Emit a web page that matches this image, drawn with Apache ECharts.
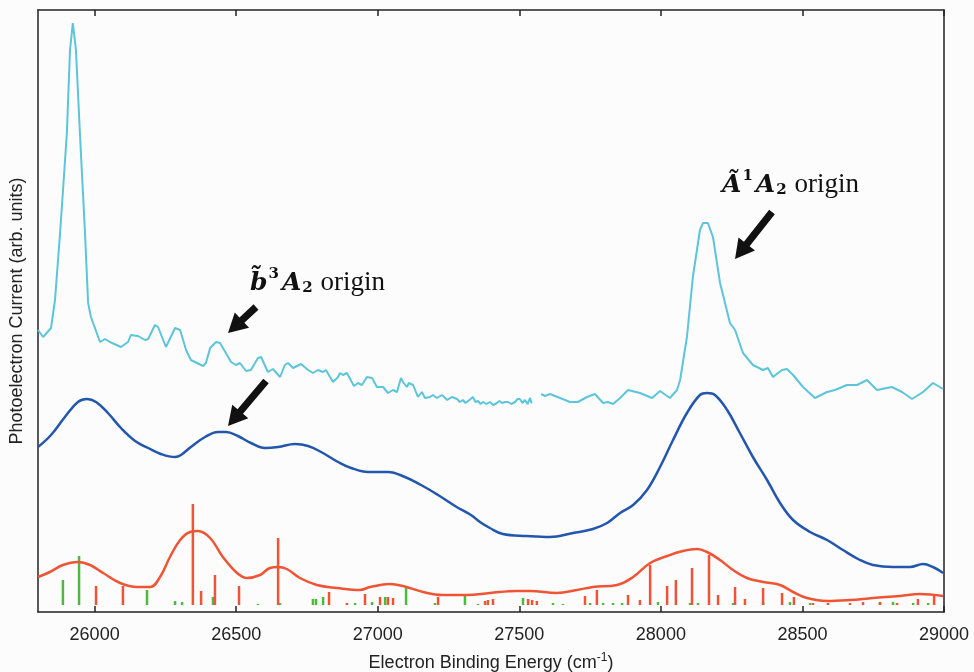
<!DOCTYPE html>
<html>
<head>
<meta charset="utf-8">
<script src="https://cdn.jsdelivr.net/npm/echarts@6/dist/echarts.min.js"></script>
<style>
html,body{margin:0;padding:0;background:#fcfcfd;}
#chart{width:974px;height:672px;}
</style>
</head>
<body>
<div id="chart"></div>
<script>
// Experimental photoelectron spectrum (cyan), x in cm^-1, y arbitrary units
const cyanX = [25800,25818,25846,25860,25878,25902,25913,25923,25934,25948,25966,25977,25987,26019,26037,26054,26093,26118,26128,26153,26178,26189,26213,26224,26252,26259,26284,26302,26323,26340,26383,26393,26408,26429,26443,26482,26499,26513,26535,26552,26577,26588,26612,26630,26655,26672,26683,26701,26729,26754,26771,26789,26807,26817,26842,26860,26867,26877,26891,26916,26930,26944,26962,26980,26997,27019,27036,27054,27068,27082,27089,27103,27110,27125,27142,27156,27167,27185,27195,27209,27227,27245,27262,27280,27290,27301,27310,27319,27328,27336,27345,27354,27363,27372,27384,27396,27408,27421,27430,27439,27450,27460,27472,27485,27494,27502,27511,27520,27529,27538,27542,27545,27560,27577,27591,27608,27644,27679,27707,27739,27767,27796,27813,27831,27856,27884,27926,27969,27997,28032,28057,28068,28092,28113,28138,28149,28166,28184,28209,28244,28262,28290,28325,28361,28378,28396,28428,28445,28467,28502,28544,28587,28615,28657,28693,28728,28763,28816,28852,28887,28926,28961,28997];
const cyanY = [275,268,277,305,372,472,555,582,555,472,372,302,288,263,266,263,258,263,270,269,265,266,280,278,258,259,277,275,255,245,239,242,257,263,262,243,240,242,234,235,247,248,233,236,228,240,242,237,241,235,232,235,233,235,223,228,232,230,232,219,222,220,228,227,218,218,212,215,213,227,223,218,222,220,208,213,207,208,210,207,210,205,208,206,203,205,202,204,206,208,203,204,201,203,201,203,200,202,204,202,203,203,201,203,206,206,202,205,201,207,203,202,null,211,209,211,207,203,203,208,211,202,203,201,207,215,212,207,214,207,215,225,268,328,375,382,382,368,322,282,275,252,240,235,237,228,235,236,230,218,207,213,215,220,220,225,215,218,213,206,213,222,216];
// Simulated/convolved spectrum (blue)
const blueX = [25800,25846,25895,25941,25973,26005,26047,26093,26143,26189,26234,26284,26305,26340,26390,26436,26464,26506,26552,26602,26648,26708,26754,26800,26860,26906,26966,27036,27096,27153,27213,27273,27329,27361,27396,27442,27527,27608,27690,27760,27810,27856,27902,27951,27997,28043,28092,28138,28163,28191,28234,28279,28325,28375,28421,28467,28527,28587,28643,28703,28749,28820,28880,28926,28961,28997];
const blueY = [158,170,188,203,206,203,192,177,164,157,151,148,150,158,168,173,173,169,162,157,158,161,159,153,143,137,133,133,128,120,110,99,90,83,77,71,69,68,72,76,82,92,100,115,138,165,192,210,212,210,195,172,148,125,102,85,73,65,55,45,40,38,38,41,38,32];
// FC simulation envelope (red)
const redX = [25800,25842,25888,25941,25984,26030,26090,26150,26196,26231,26266,26302,26337,26365,26408,26453,26503,26538,26584,26619,26648,26679,26725,26785,26856,26937,26973,27043,27089,27160,27230,27315,27396,27492,27538,27633,27704,27760,27845,27902,27962,28022,28078,28128,28163,28209,28255,28304,28361,28421,28467,28516,28587,28668,28749,28845,28915,28997];
const redY = [28,33,40,43,40,32,22,18,18,28,48,65,73,74,67,48,32,27,30,37,38,36,27,20,17,15,18,21,19,13,10,10,12,14,14,12,15,18,20,28,42,49,54,56,53,45,35,27,23,20,13,7,4,5,7,9,11,9];
// Stick spectra: red (singlet) and green (triplet)
const redStickX = [26005,26100,26347,26376,26425,26510,26648,26828,26891,26955,27008,27036,27054,27213,27379,27389,27407,27531,27545,27562,27732,27774,27884,27926,27962,28022,28053,28110,28170,28202,28262,28297,28361,28428,28470,28537,28590,28668,28714,28774,28834,28908,28965];
const redStickY = [19,19,101,14,30,19,67,13,2,11,8,8,7,8,4,5,6,6,5,4,9,15,10,5,40,19,25,37,50,10,18,6,17,12,8,2,2,2,3,3,2,6,10];
const greenStickX = [25888,25945,26185,26284,26309,26418,26577,26655,26771,26782,26807,26920,26980,27026,27100,27202,27308,27354,27513,27619,27654,27750,27796,27831,27863,27990,28103,28131,28255,28361,28456,28527,28774,28820,28891,28944];
const greenStickY = [25,49,15,4,3,8,1,2,6,6,8,2,3,8,19,2,9,1,7,2,1,2,2,2,2,3,2,2,2,3,3,2,3,3,2,2];
const xTicks = [26000,26500,27000,27500,28000,28500,29000];

const zip = (xs, ys) => xs.map((x, i) => [x, ys[i]]);

const chart = echarts.init(document.getElementById('chart'));

function stickSeries(name, xs, ys, color) {
  return {
    name: name, type: 'custom', xAxisIndex: 0, yAxisIndex: 0,
    data: zip(xs, ys),
    renderItem: function (params, api) {
      const p0 = api.coord([api.value(0), 0]);
      const p1 = api.coord([api.value(0), api.value(1)]);
      return { type: 'line', shape: { x1: p0[0], y1: p0[1], x2: p1[0], y2: p1[1] },
               style: { stroke: color, lineWidth: 2.5 } };
    },
    z: 2
  };
}

function arrow(tx, ty, px, py) {
  const dx = px - tx, dy = py - ty, len = Math.hypot(dx, dy);
  const ux = dx / len, uy = dy / len, nx = -uy, ny = ux;
  const w = 3.6, h = 10.5, L = 19;
  const bx = px - ux * L, by = py - uy * L;
  const pts = [
    [tx + nx * w, ty + ny * w], [bx + nx * w, by + ny * w], [bx + nx * h, by + ny * h],
    [px, py], [bx - nx * h, by - ny * h], [bx - nx * w, by - ny * w], [tx - nx * w, ty - ny * w]
  ];
  return { type: 'polygon', shape: { points: pts }, style: { fill: '#111' }, z: 100 };
}

const serif = '"DejaVu Serif", "Liberation Serif", serif';
const labelRich = {
  b: { fontFamily: serif, fontStyle: 'italic', fontWeight: 'bold', fontSize: 25, lineHeight: 30, verticalAlign: 'bottom', fill: '#111' },
  sup: { fontFamily: serif, fontWeight: 'bold', fontSize: 15, lineHeight: 30, verticalAlign: 'top', padding: [1, 3, 0, 1], fill: '#111' },
  sub: { fontFamily: serif, fontWeight: 'bold', fontSize: 15, lineHeight: 30, verticalAlign: 'bottom', padding: [0, 1, 0, 1], fill: '#111' },
  r: { fontFamily: '"Liberation Serif", "DejaVu Serif", serif', fontSize: 27, lineHeight: 30, verticalAlign: 'bottom', fill: '#111' }
};

const sans = '"Liberation Sans", Arial, sans-serif';
const tickStyle = { show: true, inside: true, length: 6, customValues: xTicks, lineStyle: { color: '#222', width: 1.5 } };

const option = {
  backgroundColor: '#fcfcfd',
  animation: false,
  grid: { left: 38, right: 30, top: 10, bottom: 60, show: false, containLabel: false, outerBoundsMode: 'none' },
  xAxis: [
    {
      type: 'value', min: 25800, max: 29000,
      position: 'bottom',
      name: 'Electron Binding Energy (cm{sup|-1})',
      nameLocation: 'middle', nameGap: 40,
      nameTextStyle: { fontFamily: sans, fontSize: 18, color: '#222',
        rich: { sup: { fontFamily: sans, fontSize: 12, verticalAlign: 'top', lineHeight: 22, color: '#222' } } },
      axisLine: { show: true, onZero: false, lineStyle: { color: '#222', width: 1.5 } },
      axisTick: tickStyle,
      axisLabel: { show: true, customValues: xTicks, fontFamily: sans, fontSize: 18, color: '#222', margin: 14,
        formatter: function (v) { return String(v); } },
      splitLine: { show: false }
    },
    {
      type: 'value', min: 25800, max: 29000,
      position: 'top',
      axisLine: { show: true, onZero: false, lineStyle: { color: '#222', width: 1.5 } },
      axisTick: tickStyle,
      axisLabel: { show: false },
      splitLine: { show: false }
    }
  ],
  yAxis: [
    {
      type: 'value', min: -7, max: 595, position: 'left',
      name: 'Photoelectron Current (arb. units)', nameLocation: 'middle', nameGap: 12,
      nameTextStyle: { fontFamily: sans, fontSize: 18, color: '#222' },
      axisLine: { show: true, onZero: false, lineStyle: { color: '#222', width: 1.5 } },
      axisTick: { show: false }, axisLabel: { show: false }, splitLine: { show: false }
    },
    {
      type: 'value', min: -7, max: 595, position: 'right',
      axisLine: { show: true, onZero: false, lineStyle: { color: '#222', width: 1.5 } },
      axisTick: { show: false }, axisLabel: { show: false }, splitLine: { show: false }
    }
  ],
  series: [
    stickSeries('green sticks', greenStickX, greenStickY, '#4cba3f'),
    stickSeries('red sticks', redStickX, redStickY, '#ee5436'),
    { name: 'red envelope', type: 'line', data: zip(redX, redY), smooth: 0.4, showSymbol: false,
      lineStyle: { color: '#ef5535', width: 2.5 }, z: 3 },
    { name: 'blue', type: 'line', data: zip(blueX, blueY), smooth: 0.4, showSymbol: false,
      lineStyle: { color: '#2356ad', width: 2.5 }, z: 3 },
    { name: 'cyan', type: 'line', data: zip(cyanX, cyanY), smooth: false, showSymbol: false, connectNulls: false,
      lineStyle: { color: '#5cc5d9', width: 2 }, z: 3 }
  ],
  graphic: [
    arrow(256, 307, 228, 333),
    arrow(266, 381, 228, 426),
    arrow(772, 212, 735, 259),
    { type: 'text', left: 250, top: 266, z: 100,
      style: { text: '{b|b\u0303}{sup|3}{b|A}{sub|2}{r| origin}', rich: labelRich } },
    { type: 'text', left: 722, top: 168, z: 100,
      style: { text: '{b|\u00C3}{sup|1}{b|A}{sub|2}{r| origin}', rich: labelRich } }
  ]
};
chart.setOption(option);
</script>
</body>
</html>
